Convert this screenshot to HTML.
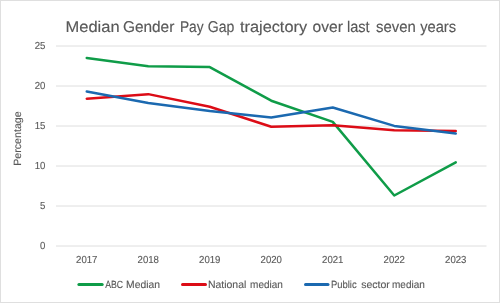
<!DOCTYPE html>
<html><head><meta charset="utf-8">
<style>
html,body{margin:0;padding:0;background:#fff;}
body{width:500px;height:303px;overflow:hidden;}
svg{display:block;will-change:transform;font-family:"Liberation Sans",sans-serif;}
text{stroke:#595959;stroke-width:0.12px;text-rendering:geometricPrecision;}
.t text{stroke-width:0.15px;}
</style></head><body>
<svg width="500" height="303" viewBox="0 0 500 303">
<rect x="0.5" y="0.5" width="499" height="302" fill="#fff" stroke="#dfdfdf" stroke-width="1"/>
<g class="t" font-size="15.6" fill="#595959">
<text x="65.54" y="31.8" textLength="54.08" lengthAdjust="spacingAndGlyphs">Median</text>
<text x="122.91" y="31.8" textLength="51.4" lengthAdjust="spacingAndGlyphs">Gender</text>
<text x="179.92" y="31.8" textLength="23.67" lengthAdjust="spacingAndGlyphs">Pay</text>
<text x="207.8" y="31.8" textLength="26.54" lengthAdjust="spacingAndGlyphs">Gap</text>
<text x="240.0" y="31.8" textLength="67.05" lengthAdjust="spacingAndGlyphs">trajectory</text>
<text x="312.5" y="31.8" textLength="30.34" lengthAdjust="spacingAndGlyphs">over</text>
<text x="346.97" y="31.8" textLength="22.66" lengthAdjust="spacingAndGlyphs">last</text>
<text x="376.0" y="31.8" textLength="39.8" lengthAdjust="spacingAndGlyphs">seven</text>
<text x="420.2" y="31.8" textLength="35.93" lengthAdjust="spacingAndGlyphs">years</text>
</g>
<g stroke="#dedede" stroke-width="1">
<line x1="56.0" y1="246" x2="486.5" y2="246"/>
<line x1="56.0" y1="206" x2="486.5" y2="206"/>
<line x1="56.0" y1="166" x2="486.5" y2="166"/>
<line x1="56.0" y1="126" x2="486.5" y2="126"/>
<line x1="56.0" y1="86" x2="486.5" y2="86"/>
<line x1="56.0" y1="46" x2="486.5" y2="46"/>
</g>
<g font-size="10.2" fill="#595959" text-anchor="end">
<text x="45.4" y="249.20" textLength="5.35" lengthAdjust="spacingAndGlyphs">0</text>
<text x="45.4" y="209.20" textLength="5.35" lengthAdjust="spacingAndGlyphs">5</text>
<text x="45.4" y="169.20" textLength="10.7" lengthAdjust="spacingAndGlyphs">10</text>
<text x="45.4" y="129.20" textLength="10.7" lengthAdjust="spacingAndGlyphs">15</text>
<text x="45.4" y="89.20" textLength="10.7" lengthAdjust="spacingAndGlyphs">20</text>
<text x="45.4" y="49.20" textLength="10.7" lengthAdjust="spacingAndGlyphs">25</text>
</g>
<g font-size="10.2" fill="#595959" text-anchor="middle">
<text x="86.75" y="263.4" textLength="21.4" lengthAdjust="spacingAndGlyphs">2017</text>
<text x="148.25" y="263.4" textLength="21.4" lengthAdjust="spacingAndGlyphs">2018</text>
<text x="209.75" y="263.4" textLength="21.4" lengthAdjust="spacingAndGlyphs">2019</text>
<text x="271.25" y="263.4" textLength="21.4" lengthAdjust="spacingAndGlyphs">2020</text>
<text x="332.75" y="263.4" textLength="21.4" lengthAdjust="spacingAndGlyphs">2021</text>
<text x="394.25" y="263.4" textLength="21.4" lengthAdjust="spacingAndGlyphs">2022</text>
<text x="455.75" y="263.4" textLength="21.4" lengthAdjust="spacingAndGlyphs">2023</text>
</g>
<text transform="translate(20.9,165.8) rotate(-90)" font-size="10.5" fill="#595959" textLength="54.5" lengthAdjust="spacingAndGlyphs">Percentage</text>
<g fill="none" stroke-width="2.5" stroke-linecap="round" stroke-linejoin="round">
<polyline stroke="#0f9c48" points="86.75,57.90 148.25,66.30 209.75,67.10 271.25,100.70 332.75,121.90 394.25,195.50 455.75,162.30"/>
<polyline stroke="#dc0c16" points="86.75,98.70 148.25,94.14 209.75,106.70 271.25,126.70 332.75,125.34 394.25,130.30 455.75,131.10"/>
<polyline stroke="#1b69b0" points="86.75,91.50 148.25,103.10 209.75,111.10 271.25,117.50 332.75,107.50 394.25,125.90 455.75,133.50"/>
</g>
<g stroke-width="3" stroke-linecap="round">
<line x1="78.9" y1="284.5" x2="102.2" y2="284.5" stroke="#0f9c48"/>
<line x1="182.5" y1="284.5" x2="205.5" y2="284.5" stroke="#dc0c16"/>
<line x1="305.5" y1="284.5" x2="328" y2="284.5" stroke="#1b69b0"/>
</g>
<g font-size="10.4" fill="#595959">
<text x="105.2" y="288.1" textLength="18.02" lengthAdjust="spacingAndGlyphs">ABC</text>
<text x="126.11" y="288.1" textLength="33.89" lengthAdjust="spacingAndGlyphs">Median</text>
<text x="207.99" y="288.1" textLength="38.33" lengthAdjust="spacingAndGlyphs">National</text>
<text x="250.1" y="288.1" textLength="32.79" lengthAdjust="spacingAndGlyphs">median</text>
<text x="330.99" y="288.1" textLength="25.69" lengthAdjust="spacingAndGlyphs">Public</text>
<text x="361.2" y="288.1" textLength="28.6" lengthAdjust="spacingAndGlyphs">sector</text>
<text x="392.0" y="288.1" textLength="32.79" lengthAdjust="spacingAndGlyphs">median</text>
</g>
</svg>
</body></html>
